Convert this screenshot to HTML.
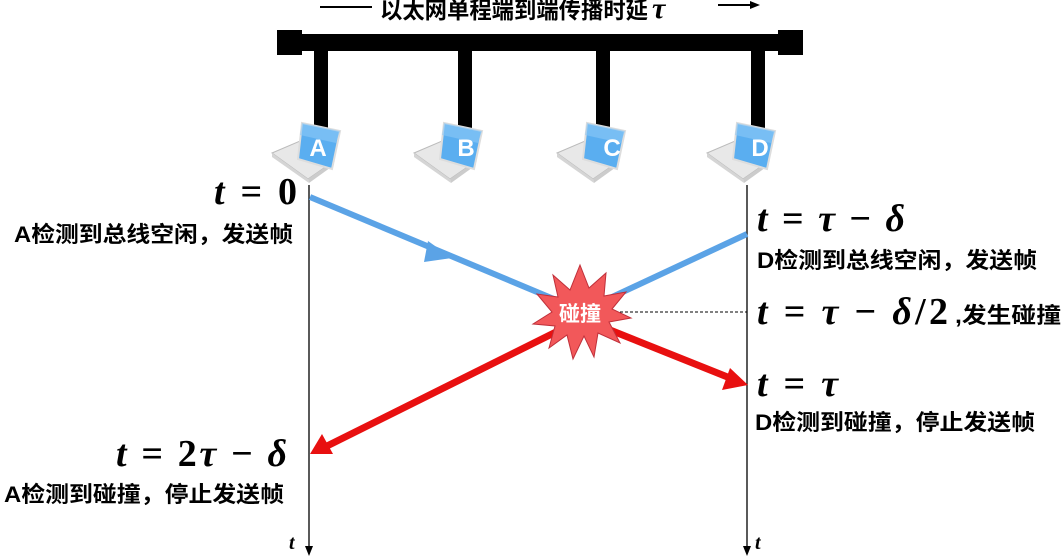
<!DOCTYPE html>
<html><head><meta charset="utf-8"><style>
body{margin:0;background:#fff;}
svg{display:block}
.cn{font-family:"Liberation Sans","Noto Sans CJK SC",sans-serif;font-weight:bold;fill:#000}
.m{font-family:"Liberation Serif","DejaVu Serif",serif;font-weight:bold;font-style:italic;fill:#000}
.mu{font-family:"Liberation Serif","DejaVu Serif",serif;font-weight:bold;font-style:normal;fill:#000}
</style></head><body>
<svg width="1061" height="558" viewBox="0 0 1061 558" xmlns="http://www.w3.org/2000/svg">
<defs>
<g id="lap">
<polygon points="0,30 28,18 62,38 36,56" fill="#e8e8e8" stroke="#bbb"/>
<polygon points="36,56 62,38 62,42 37,60" fill="#ccc"/>
<polygon points="0,30 36,56 37,60 0,34" fill="#d5d5d5"/>
<polygon points="30,0 68,8 60,46 26,36" fill="#5aaef0" stroke="#ddd" stroke-width="2"/>
<polygon points="30,0 68,8 64,20 28,12" fill="#8cc8f6" opacity="0.6"/>
</g>
</defs>
<line x1="320" y1="7" x2="372" y2="7" stroke="#000" stroke-width="2"/>
<text x="380" y="18" class="cn" font-size="23" textLength="268" lengthAdjust="spacingAndGlyphs">以太网单程端到端传播时延</text>
<text x="652" y="18" class="m" font-size="30">τ</text>
<line x1="718" y1="5" x2="752" y2="5" stroke="#000" stroke-width="2"/>
<polygon points="750,1 760,5 750,9" fill="#000"/>
<rect x="290" y="34" width="500" height="17" fill="#000"/>
<rect x="277" y="30" width="25" height="25" fill="#000"/>
<rect x="778" y="30" width="25" height="25" fill="#000"/>
<rect x="314" y="50" width="14" height="82" fill="#000"/>
<rect x="458" y="50" width="14" height="82" fill="#000"/>
<rect x="596" y="50" width="14" height="82" fill="#000"/>
<rect x="751" y="50" width="14" height="82" fill="#000"/>
<use href="#lap" x="272" y="123"/>
<use href="#lap" x="414" y="123"/>
<use href="#lap" x="557" y="123"/>
<use href="#lap" x="707" y="123"/>
<g font-family="Liberation Sans,sans-serif" font-weight="bold" font-size="24" fill="#fff" text-anchor="middle">
<text x="318" y="156">A</text><text x="466" y="156">B</text><text x="612" y="156">C</text><text x="760" y="156">D</text>
</g>
<line x1="309" y1="185" x2="309" y2="550" stroke="#000" stroke-width="1.3"/>
<polygon points="305,546 313,546 309,556" fill="#000"/>
<line x1="747" y1="185" x2="747" y2="550" stroke="#000" stroke-width="1.3"/>
<polygon points="743,546 751,546 747,556" fill="#000"/>
<text x="289" y="549" class="m" font-size="20">t</text>
<text x="755" y="549" class="m" font-size="20">t</text>
<line x1="310" y1="197" x2="580" y2="310" stroke="#5ba3e6" stroke-width="6"/>
<polygon points="428,241 452,258 424,262" fill="#5ba3e6"/>
<line x1="747" y1="234" x2="595" y2="305" stroke="#5ba3e6" stroke-width="6"/>
<line x1="590" y1="322" x2="735" y2="380" stroke="#e81010" stroke-width="7"/>
<polygon points="748,385 722,390 730,368" fill="#e81010"/>
<line x1="570" y1="325" x2="325" y2="447" stroke="#e81010" stroke-width="7"/>
<polygon points="310,454 322,434 333,454" fill="#e81010"/>
<line x1="615" y1="312" x2="747" y2="312" stroke="#000" stroke-width="1" stroke-dasharray="3,2"/>
<polygon fill="#f2585a" stroke="#c0303a" stroke-width="1" points="
580,265 589,288 606,273 604,296 626,292 612,309 631,318 609,322 620,343 598,333 594,357 584,336 573,359 567,335 549,348 555,326 533,324 552,312 537,294 558,297 553,275 570,290"/>
<text x="580" y="321" text-anchor="middle" font-family="Liberation Sans,'Noto Sans CJK SC',sans-serif" font-weight="bold" font-size="21" fill="#fff">碰撞</text>
<text x="214" y="204" class="m" font-size="38" textLength="83" lengthAdjust="spacing">t <tspan class="mu">= 0</tspan></text>
<text x="14" y="242" class="cn" font-size="22" textLength="279" lengthAdjust="spacingAndGlyphs">A检测到总线空闲，发送帧</text>
<text x="116" y="466" class="m" font-size="38" textLength="171" lengthAdjust="spacing">t <tspan class="mu">= 2</tspan>τ <tspan class="mu">−</tspan> δ</text>
<text x="4" y="502" class="cn" font-size="22" textLength="280" lengthAdjust="spacingAndGlyphs">A检测到碰撞，停止发送帧</text>
<text x="757" y="231" class="m" font-size="38" textLength="148" lengthAdjust="spacing">t <tspan class="mu">=</tspan> τ <tspan class="mu">−</tspan> δ</text>
<text x="757" y="268" class="cn" font-size="22" textLength="280" lengthAdjust="spacingAndGlyphs">D检测到总线空闲，发送帧</text>
<text x="757" y="324" class="m" font-size="38" textLength="191" lengthAdjust="spacing">t <tspan class="mu">=</tspan> τ <tspan class="mu">−</tspan> δ<tspan class="mu">/2</tspan></text>
<text x="955" y="323" class="cn" font-size="22" textLength="106" lengthAdjust="spacingAndGlyphs">,发生碰撞</text>
<text x="757" y="396" class="m" font-size="38" textLength="81" lengthAdjust="spacing">t <tspan class="mu">=</tspan> τ</text>
<text x="755" y="430" class="cn" font-size="22" textLength="280" lengthAdjust="spacingAndGlyphs">D检测到碰撞，停止发送帧</text>
</svg>
</body></html>
